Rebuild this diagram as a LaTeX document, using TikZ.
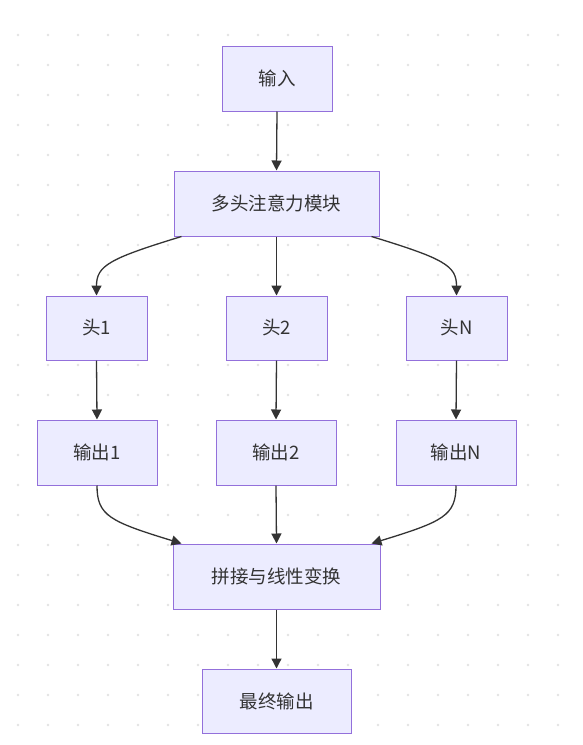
\documentclass[tikz,border=0pt]{standalone}
\usepackage{fontspec}
\setmainfont{Noto Sans CJK SC}
\usetikzlibrary{arrows.meta}
\definecolor{boxfill}{HTML}{ECECFF}
\definecolor{boxline}{HTML}{9370DB}
\definecolor{edgecol}{HTML}{333333}
\definecolor{dotcol}{HTML}{E3E3E3}
\tikzset{
  box/.style={draw=boxline, fill=boxfill, line width=1pt, inner sep=0pt, font=\fontsize{18.5pt}{21pt}\selectfont, text=edgecol},
  edge/.style={draw=edgecol, line width=1.3pt, -{Triangle[length=10pt,width=10pt]}},
}
\begin{document}
\begin{tikzpicture}[x=1pt,y=-1pt]
\useasboundingbox (0,0) rectangle (582,745);
\fill[white] (0,0) rectangle (582,745);
\foreach \i in {0,...,18} {
  \foreach \j in {0,...,23} {
    \fill[dotcol] (18+30*\i,35+30*\j) circle (1.3);
  }
}
\node[box, minimum width=110pt, minimum height=65pt] (in) at (277,78.5) {输入};
\node[box, minimum width=205pt, minimum height=65pt] (mha) at (276.5,203.5) {多头注意力模块};
\node[box, minimum width=101pt, minimum height=64pt] (h1) at (96.5,328) {头1};
\node[box, minimum width=101pt, minimum height=64pt] (h2) at (276.5,328) {头2};
\node[box, minimum width=101pt, minimum height=64pt] (hn) at (456.5,328) {头N};
\node[box, minimum width=120pt, minimum height=65pt] (o1) at (97,452.5) {输出1};
\node[box, minimum width=120pt, minimum height=65pt] (o2) at (276,452.5) {输出2};
\node[box, minimum width=120pt, minimum height=65pt] (on) at (456,452.5) {输出N};
\node[box, minimum width=207pt, minimum height=65pt] (cat) at (276.5,576.5) {拼接与线性变换};
\node[box, minimum width=149pt, minimum height=64pt] (out) at (276.5,701) {最终输出};

\draw[edge] (in.south) -- (mha.north);
\draw[edge] ([xshift=8pt]mha.south west) .. controls +(-72,22) and +(0,-30) .. (h1.north);
\draw[edge] (mha.south) -- (h2.north);
\draw[edge] ([xshift=-8pt]mha.south east) .. controls +(72,22) and +(0,-30) .. (hn.north);
\draw[edge] (h1.south) -- (o1.north);
\draw[edge] (h2.south) -- (o2.north);
\draw[edge] (hn.south) -- (on.north);
\draw[edge] (o1.south) .. controls +(0,30) and +(-72,-22) .. ([xshift=9pt]cat.north west);
\draw[edge] (o2.south) -- (cat.north);
\draw[edge] (on.south) .. controls +(0,30) and +(72,-22) .. ([xshift=-9pt]cat.north east);
\draw[edge] (cat.south) -- (out.north);
\end{tikzpicture}
\end{document}
